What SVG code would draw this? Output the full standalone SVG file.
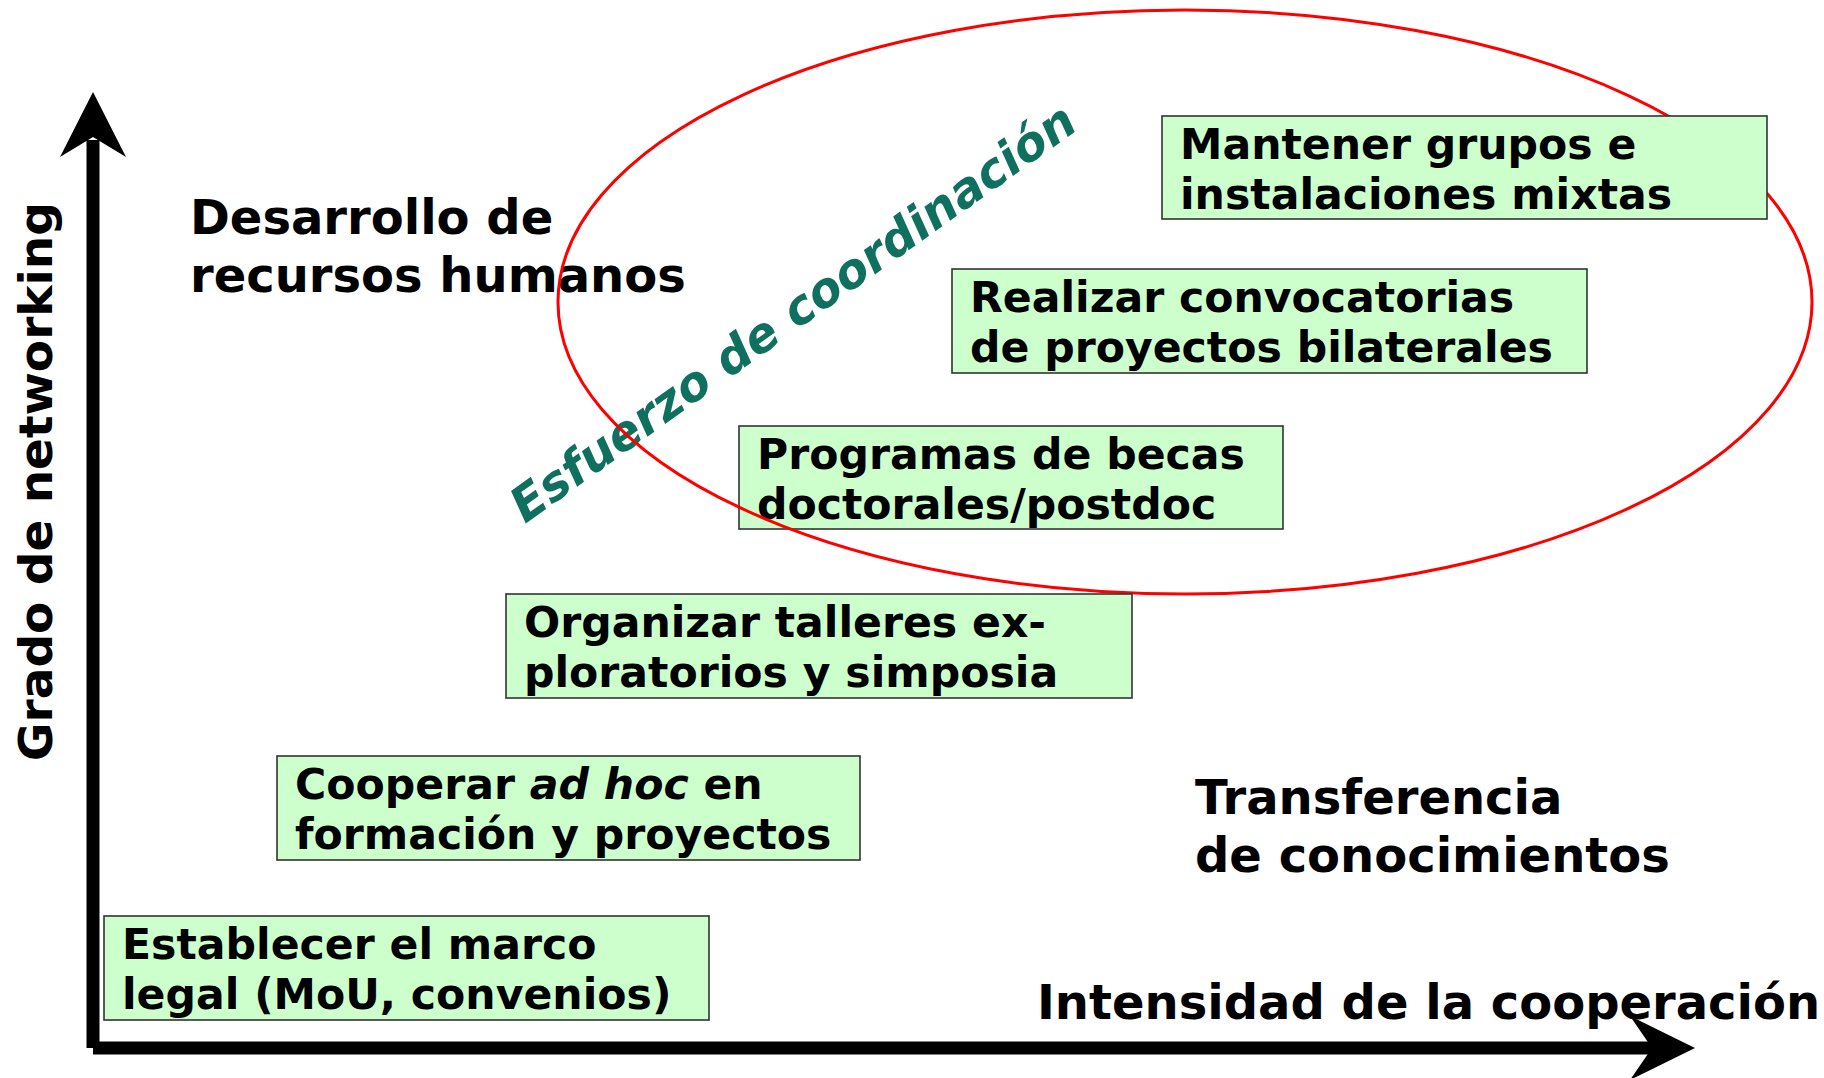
<svg xmlns="http://www.w3.org/2000/svg" width="1824" height="1078" viewBox="0 0 1824 1078">
<style>
  text { font-family: "DejaVu Sans", Verdana, "Liberation Sans", sans-serif; font-weight: bold; fill: #000; }
  .box { fill: #CCFFCC; stroke: #333333; stroke-width: 1.6; }
  .bt { font-size: 42.6px; }
  .lbl { font-size: 48px; }
  .axis { stroke: #000; stroke-width: 13; fill: none; }
  .head { fill: #000; }
  .coord { font-size: 48px; font-style: italic; fill: #107060; }
</style>
<rect width="1824" height="1078" fill="#ffffff"/>

<g id="label-desarrollo">
  <text class="lbl" x="190" y="234">Desarrollo de</text>
  <text class="lbl" x="190" y="292">recursos humanos</text>
</g>

<g id="label-esfuerzo">
  <text class="coord" transform="translate(525,524) rotate(-35.5)" x="0" y="0">Esfuerzo de coordinación</text>
</g>

<g id="node-programas">
  <rect class="box" x="739" y="426" width="544" height="103"/>
  <text class="bt" x="757" y="469">Programas de becas</text>
  <text class="bt" x="757" y="519">doctorales/postdoc</text>
</g>

<g id="ellipse-coordinacion">
  <ellipse cx="1185" cy="302" rx="627" ry="292" fill="none" stroke="#FF0000" stroke-width="3"/>
</g>

<g id="node-mantener">
  <rect class="box" x="1162" y="116" width="605" height="103"/>
  <text class="bt" x="1180" y="159">Mantener grupos e</text>
  <text class="bt" x="1180" y="209">instalaciones mixtas</text>
</g>

<g id="node-realizar">
  <rect class="box" x="952" y="269" width="635" height="104"/>
  <text class="bt" x="970" y="312">Realizar convocatorias</text>
  <text class="bt" x="970" y="362">de proyectos bilaterales</text>
</g>

<g id="node-organizar">
  <rect class="box" x="506" y="594" width="626" height="104"/>
  <text class="bt" x="524" y="637">Organizar talleres ex-</text>
  <text class="bt" x="524" y="687">ploratorios y simposia</text>
</g>

<g id="node-cooperar">
  <rect class="box" x="277" y="756" width="583" height="104"/>
  <text class="bt" x="295" y="799">Cooperar <tspan font-style="italic">ad hoc</tspan> en</text>
  <text class="bt" x="295" y="849">formación y proyectos</text>
</g>

<g id="node-establecer">
  <rect class="box" x="104" y="916" width="605" height="104"/>
  <text class="bt" x="122" y="959">Establecer el marco</text>
  <text class="bt" x="122" y="1009">legal (MoU, convenios)</text>
</g>

<g id="label-transferencia">
  <text class="lbl" x="1195" y="814">Transferencia</text>
  <text class="lbl" x="1195" y="872">de conocimientos</text>
</g>

<g id="label-intensidad">
  <text class="lbl" x="1037" y="1019">Intensidad de la cooperación</text>
</g>

<g id="label-grado">
  <text class="lbl" style="font-size:47px" transform="translate(52,761) rotate(-90)" x="0" y="0">Grado de networking</text>
</g>

<g id="connectors">
  <line class="axis" x1="93" y1="1048" x2="93" y2="140"/>
  <polygon class="head" points="93,92 126,157 93,137 60,157"/>
  <line class="axis" x1="93" y1="1048" x2="1655" y2="1048"/>
  <polygon class="head" points="1695,1048 1630,1016 1652,1048 1630,1080"/>
</g>
</svg>
